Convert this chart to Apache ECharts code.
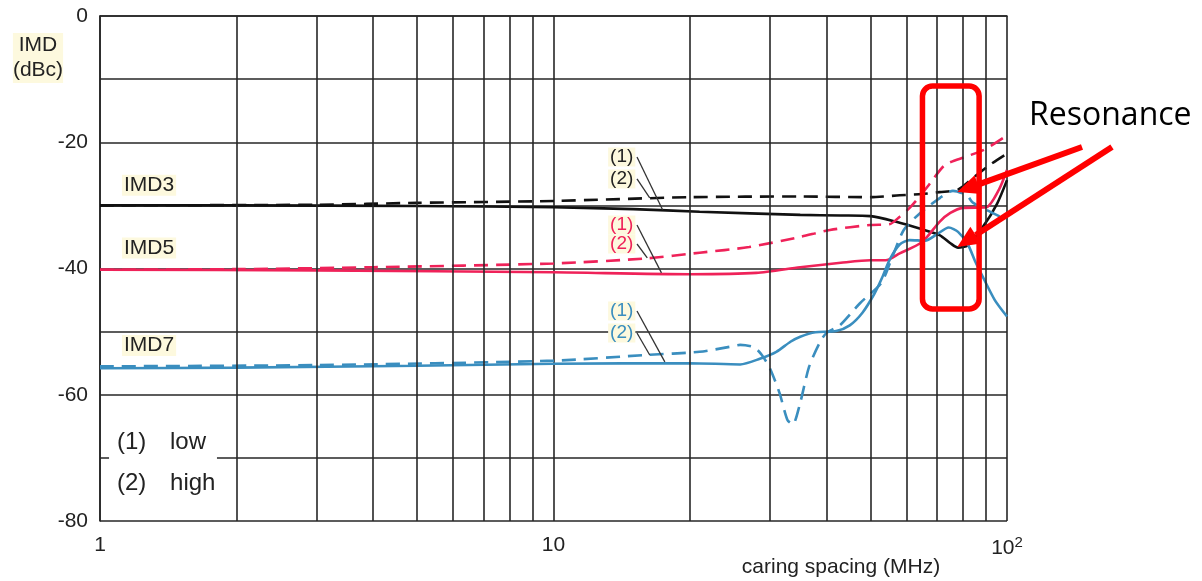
<!DOCTYPE html>
<html><head><meta charset="utf-8">
<script src="https://cdn.jsdelivr.net/npm/echarts@6/dist/echarts.min.js"></script>
<style>html,body{margin:0;padding:0;background:#fff}#c{width:1202px;height:581px}</style>
</head><body><div id="c"></div><script>
// ---- data (frequency in MHz, IMD in dBc) ----
const imd3LowF  = [1, 2, 5, 10, 15, 21, 35, 43, 50, 57, 65, 71, 75, 78, 82, 88.5, 95, 100];
const imd3LowV  = [-30, -30, -30.1, -30.3, -30.6, -31, -31.5, -31.6, -31.7, -32.6, -33.8, -34.7, -36, -36.7, -36.3, -33.4, -29.8, -26];
const imd3HighF = [1, 3, 5, 10, 20, 35, 50, 58, 65, 71, 78, 85, 92, 100];
const imd3HighV = [-30, -29.9, -29.6, -29.3, -28.7, -28.6, -28.7, -28.4, -28.2, -27.9, -27.5, -25.4, -23.5, -21.8];
const imd5LowF  = [1, 3, 10, 20, 28, 35, 43, 50, 54, 58, 65, 71, 75, 80, 90, 96, 100];
const imd5LowV  = [-40.2, -40.3, -40.6, -40.9, -40.7, -39.8, -39.1, -38.7, -38.7, -37.6, -35.8, -32.6, -31.2, -30.4, -30.3, -27.5, -24.4];
const imd5HighF = [1, 2, 4, 10, 16, 21, 27, 35, 40.7, 50, 55, 58, 61, 65, 68, 73, 81, 89, 100];
const imd5HighV = [-40.2, -40.1, -39.8, -39.2, -38.4, -37.5, -36.6, -35, -33.9, -33.1, -33, -31.8, -30.4, -28.1, -26.3, -23.6, -22.3, -21.2, -18.9];
const imd7LowF  = [1, 2, 5, 10, 20, 25.8, 28.5, 31, 33.3, 35, 37.8, 42, 45, 48, 51, 53, 55.2, 58, 61, 66, 70, 74.4, 78, 82, 85, 88, 94, 100];
const imd7LowV  = [-55.8, -55.7, -55.4, -55.1, -55, -55.2, -54.3, -53.2, -51.6, -50.8, -50.1, -49.9, -49, -47, -44, -41.5, -38.5, -36.2, -35.5, -35.6, -34.6, -33.5, -34.2, -36.2, -38.8, -41, -45, -47.6];
const imd7HighF = [1, 3, 10, 16, 21, 24.5, 25.8, 27.7, 28.8, 30, 31.5, 32.8, 33.7, 34.9, 36.6, 38.6, 40, 42.8, 47.4, 52.8, 55.3, 59.2, 64.4, 71.2, 76, 81.6, 83.9, 89.9, 100];
const imd7HighV = [-55.5, -55.3, -54.6, -53.7, -53.2, -52.4, -52.1, -52.5, -53.7, -55.8, -59.7, -64, -64.7, -61.6, -55.6, -51.8, -50.2, -49, -45.5, -42.3, -39, -33.9, -31.2, -28.8, -27.7, -28.4, -29.5, -30.7, -32.3];

const minorGridF = [2,3,4,5,6,7,8,9,20,30,40,50,60,70,80,90];
const yTickLabels = [0, -20, -40, -60, -80];

const BLACK = '#111111', RED = '#ef2259', BLUE = '#3a8ebf', GRID = '#262626';
const FONT = '"Liberation Sans", Arial, sans-serif';

const zip = (f, v) => f.map((x, i) => [x, v[i]]);

function lineSeries(name, f, v, color, dashed) {
  return {
    name, type: 'line', data: zip(f, v), showSymbol: false, symbol: 'none',
    smooth: 0.25, z: 3, silent: true,
    lineStyle: { color, width: 2.6, type: dashed ? [14, 8] : 'solid' }
  };
}

const chart = echarts.init(document.getElementById('c'), null, { renderer: 'canvas' });
chart.setOption({
  animation: false,
  backgroundColor: '#ffffff',
  textStyle: { fontFamily: FONT },
  grid: { left: 100, right: 195, top: 16, bottom: 60 },
  xAxis: {
    type: 'log', logBase: 10, min: 1, max: 100,
    axisLine: { show: true, lineStyle: { color: GRID, width: 1.6 } },
    axisTick: { show: false },
    splitLine: { show: true, lineStyle: { color: GRID, width: 1.6 } },
    axisLabel: {
      margin: 14, color: '#222', fontSize: 21, fontFamily: FONT,
      formatter: v => { const r = Math.round(v); return r === 100 ? '{b|10}{s|2}' : String(r); },
      rich: { b: { fontSize: 21, color: '#222', fontFamily: FONT, lineHeight: 26 },
              s: { fontSize: 15, color: '#222', fontFamily: FONT, verticalAlign: 'top', lineHeight: 12 } }
    }
  },
  yAxis: {
    type: 'value', min: -80, max: 0, interval: 10,
    axisLine: { show: true, lineStyle: { color: GRID, width: 1.6 } },
    axisTick: { show: false },
    splitLine: { show: true, lineStyle: { color: GRID, width: 1.6 } },
    axisLabel: {
      margin: 12, color: '#222', fontSize: 21, fontFamily: FONT,
      formatter: v => yTickLabels.includes(v) ? String(v) : ''
    }
  },
  series: [
    { name: 'grid', type: 'line', data: [], z: 1, silent: true,
      markLine: { silent: true, symbol: 'none', animation: false, label: { show: false },
        lineStyle: { type: 'solid', color: GRID, width: 1.6 },
        data: minorGridF.map(x => ({ xAxis: x })) } },
    lineSeries('IMD3 (1) low', imd3LowF, imd3LowV, BLACK, false),
    lineSeries('IMD3 (2) high', imd3HighF, imd3HighV, BLACK, true),
    lineSeries('IMD5 (1) low', imd5LowF, imd5LowV, RED, false),
    lineSeries('IMD5 (2) high', imd5HighF, imd5HighV, RED, true),
    lineSeries('IMD7 (1) low', imd7LowF, imd7LowV, BLUE, false),
    lineSeries('IMD7 (2) high', imd7HighF, imd7HighV, BLUE, true)
  ]
});

// ---- annotations (anchored in data coordinates) ----
const px = (f, v) => chart.convertToPixel({ gridIndex: 0 }, [f, v]);
const YEL = '#fdf9de';
const g = [];

// legend box cover + text
const c1 = px(1.047, -64.8), c2 = px(1.811, -77.5);
g.push({ type: 'rect', shape: { x: c1[0], y: c1[1], width: c2[0] - c1[0], height: c2[1] - c1[1] }, style: { fill: '#fff' }, z: 10 });
[['(1)', 1.09, -67.6], ['low', 1.427, -67.6], ['(2)', 1.09, -74.0], ['high', 1.427, -74.0]].forEach(([t, f, v]) => {
  const p = px(f, v);
  g.push({ type: 'text', x: p[0], y: p[1], z: 11, style: { text: t, font: '24px ' + FONT, fill: '#222', align: 'left', verticalAlign: 'middle' } });
});

// series name labels
[['IMD3', 1.118, -26.8], ['IMD5', 1.118, -36.75], ['IMD7', 1.118, -52.2]].forEach(([t, f, v]) => {
  const p = px(f, v);
  g.push({ type: 'text', x: p[0], y: p[1], z: 11, style: { text: t, font: '21px ' + FONT, fill: '#222', align: 'left', verticalAlign: 'middle', backgroundColor: YEL, padding: [0, 2] } });
});

// (1)/(2) callouts with leader lines
const callouts = [
  ['(1)', -22.34, BLACK, 17.4, -30.7], ['(2)', -25.82, BLACK, 16.3, -28.8],
  ['(1)', -33.11, RED, 17.3, -40.7],   ['(2)', -36.12, RED, 16.1, -38.3],
  ['(1)', -46.73, BLUE, 17.6, -54.8],  ['(2)', -50.22, BLUE, 16.3, -53.7]
];
callouts.forEach(([t, v, col, ef, ev]) => {
  const s = px(15.28, v), e = px(ef, ev), p = px(14.14, v);
  g.push({ type: 'line', z: 10, shape: { x1: s[0], y1: s[1], x2: e[0], y2: e[1] }, style: { stroke: '#333', lineWidth: 1.3 } });
  g.push({ type: 'text', x: p[0], y: p[1], z: 11, style: { text: t, font: '19px ' + FONT, fill: col === BLACK ? '#222' : col, align: 'center', verticalAlign: 'middle', backgroundColor: YEL, padding: [0, 2] } });
});

// resonance box
const b1 = px(65.1, -11.1), b2 = px(86.8, -46.4);
g.push({ type: 'rect', z: 12, shape: { x: b1[0], y: b1[1], width: b2[0] - b1[0], height: b2[1] - b1[1], r: 10 }, style: { fill: 'none', stroke: '#ff0000', lineWidth: 5.5 } });

// arrows
function arrow(tail, tip) {
  const dx = tip[0] - tail[0], dy = tip[1] - tail[1], L = Math.hypot(dx, dy);
  const ux = dx / L, uy = dy / L, nx = -uy, ny = ux, hl = 22, hw = 10;
  const bx = tip[0] - ux * hl, by = tip[1] - uy * hl;
  g.push({ type: 'line', z: 13, shape: { x1: tail[0], y1: tail[1], x2: bx, y2: by }, style: { stroke: '#ff0000', lineWidth: 6 } });
  g.push({ type: 'polygon', z: 13, shape: { points: [tip, [bx + nx * hw, by + ny * hw], [bx - nx * hw, by - ny * hw]] }, style: { fill: '#ff0000' } });
}
arrow([1082, 147], px(77.7, -27.9));
arrow([1112, 147], px(77.7, -36.6));

g.push({ type: 'text', x: 1029, y: 116, z: 13, style: { text: 'Resonance', font: '32px "Open Sans", sans-serif', fill: '#000', align: 'left', verticalAlign: 'middle' } });

// axis titles
g.push({ type: 'text', x: 38, y: 58, z: 11, style: { text: 'IMD\n(dBc)', font: '21px ' + FONT, fill: '#222', align: 'center', verticalAlign: 'middle', lineHeight: 25, backgroundColor: YEL } });
g.push({ type: 'text', x: 841, y: 567, z: 11, style: { text: 'caring spacing (MHz)', font: '21px ' + FONT, fill: '#222', align: 'center', verticalAlign: 'middle' } });

chart.setOption({ graphic: { elements: g } });
</script></body></html>
